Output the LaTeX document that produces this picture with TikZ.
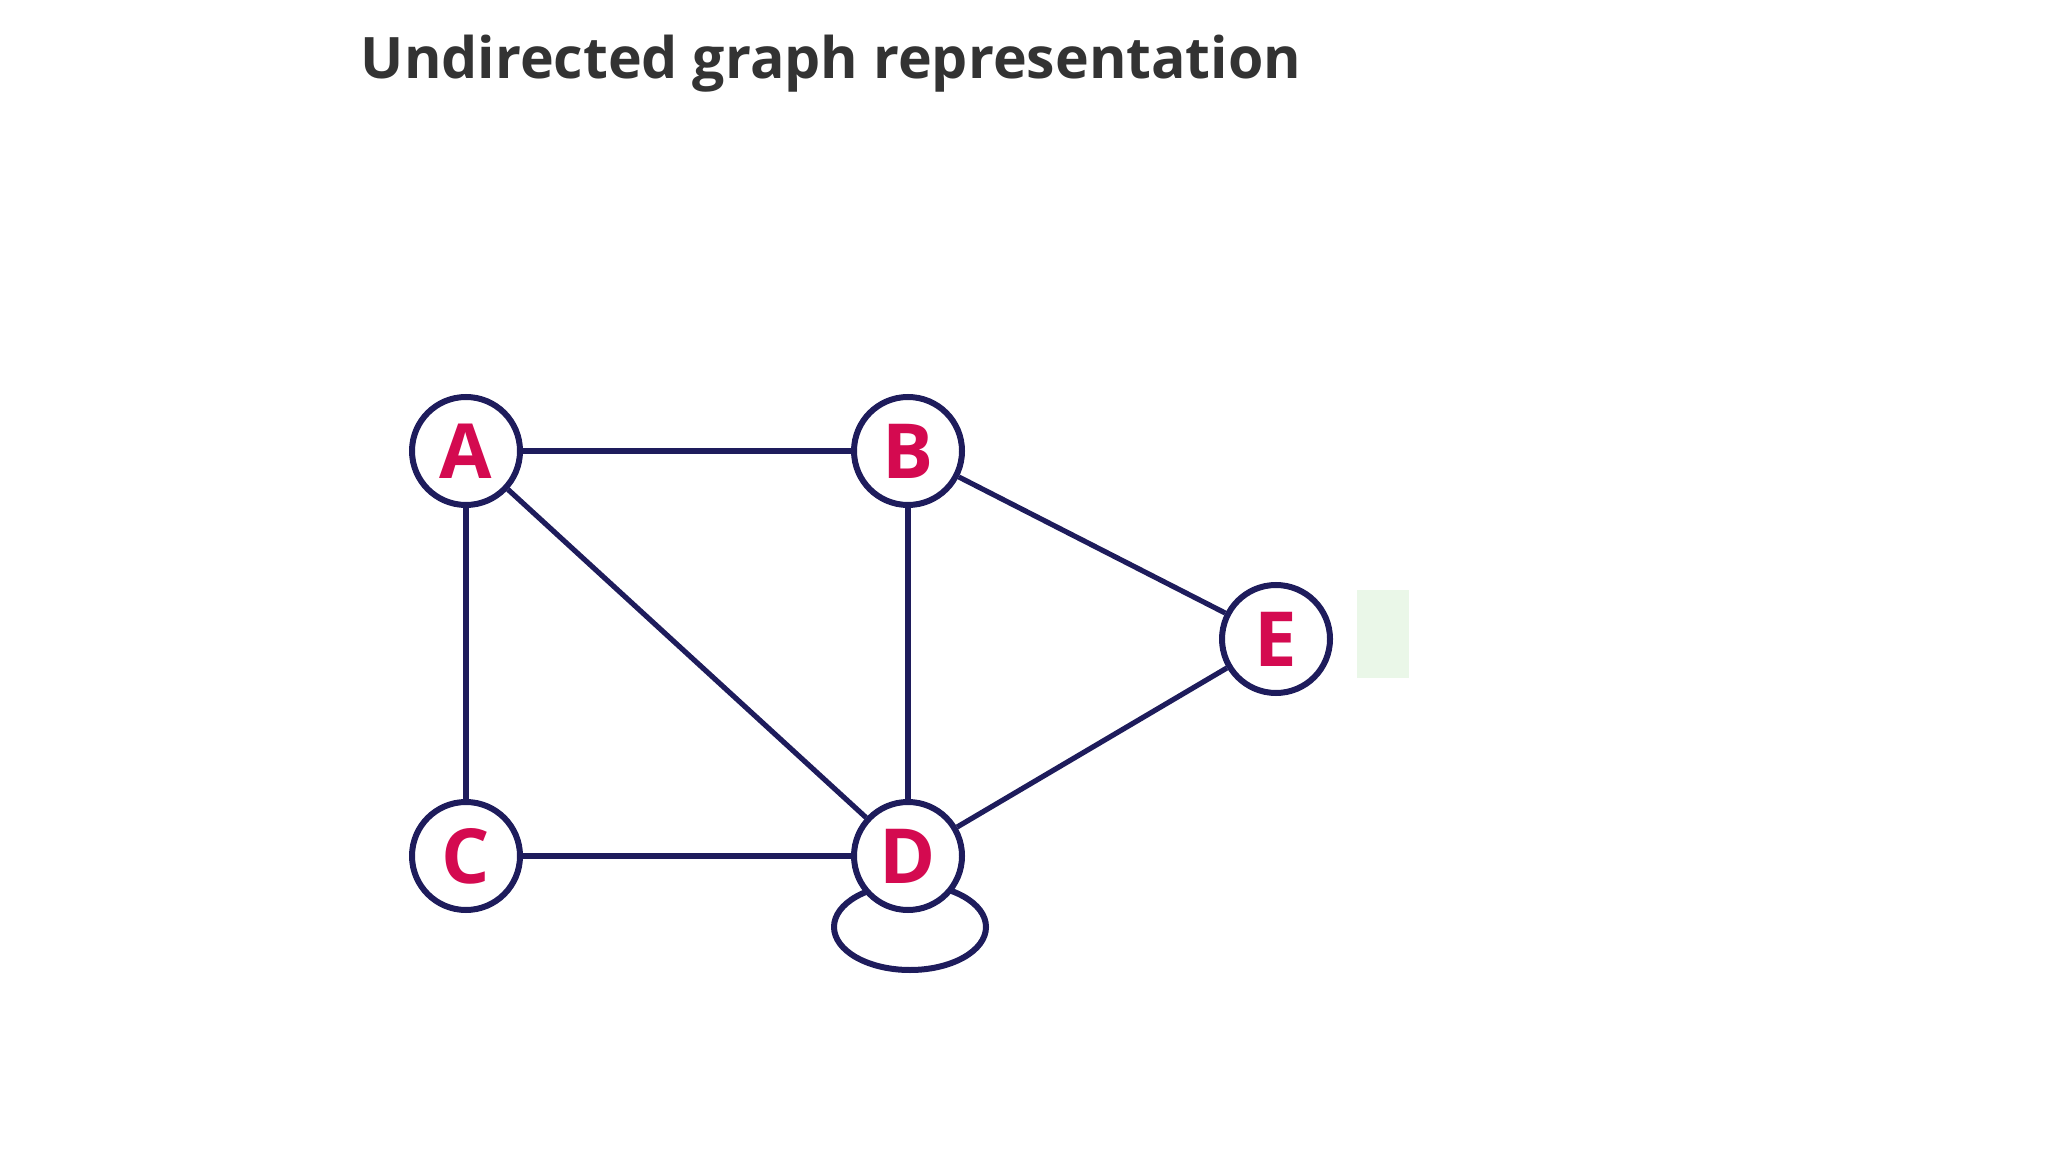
\documentclass[tikz,border=0pt]{standalone}
\usepackage{fontspec}
\setmainfont{Open Sans}
\usetikzlibrary{positioning}
\definecolor{edgeblue}{RGB}{30,28,92}
\definecolor{vred}{RGB}{212,10,80}
\definecolor{titlegray}{RGB}{51,51,51}
\definecolor{paleg}{RGB}{234,247,232}

\begin{document}
\begin{tikzpicture}[
    x=0.5pt, y=0.5pt,
    vertex/.style={circle, draw=edgeblue, line width=3pt, fill=white, minimum size=54pt, inner sep=0pt, font=\fontsize{38}{38}\selectfont\bfseries, text=vred},
    edge/.style={draw=edgeblue, line width=2.6pt},
    heading/.style={font=\fontsize{28.6}{34}\selectfont\bfseries, text=titlegray},
  ]
  \useasboundingbox (0,0) rectangle (2048,1152);

  \node[heading] (title) at (831,1088) {Undirected graph representation};

  % self loop on D sits behind the vertex
  \draw[edge, line width=3pt] (910,225) ellipse [x radius=76, y radius=43];

  \node[vertex] (A) at (466,701) {A};
  \node[vertex] (B) at (908,701) {B};
  \node[vertex] (C) at (466,296) {C};
  \node[vertex] (D) at (908,296) {D};
  \node[vertex] (E) at (1276,513) {E};

  \draw[edge] (A) -- (B);
  \draw[edge] (A) -- (C);
  \draw[edge] (A) -- (D);
  \draw[edge] (B) -- (D);
  \draw[edge] (B) -- (E);
  \draw[edge] (C) -- (D);
  \draw[edge] (D) -- (E);

  \node[fill=paleg, minimum width=26pt, minimum height=44pt, inner sep=0pt] (mark) at (1383,518) {};
\end{tikzpicture}
\end{document}
